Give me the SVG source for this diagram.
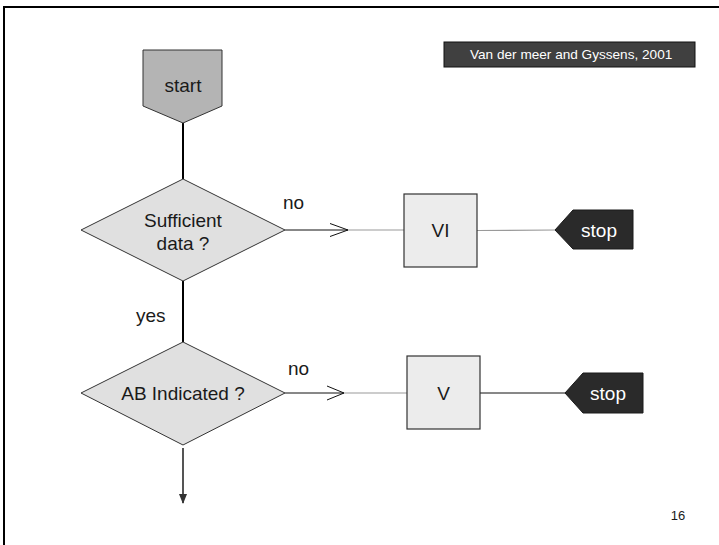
<svg xmlns="http://www.w3.org/2000/svg" width="719" height="545" viewBox="0 0 719 545">
  <style>
    text { font-family: "Liberation Sans", Arial, sans-serif; }
    .lbl { font-size: 19px; fill: #1a1a1a; text-anchor: middle; }
    .side { font-size: 19px; fill: #1a1a1a; }
    .white { font-size: 19px; fill: #ffffff; text-anchor: middle; }
    .decision { fill: #e0e0e0; stroke: #333333; stroke-width: 1; }
    .step { fill: #ececec; stroke: #333333; stroke-width: 1.2; }
    .terminal { fill: #2a2a2a; stroke: #1a1a1a; stroke-width: 1; }
    .trunk { stroke: #000000; stroke-width: 2; fill: none; }
    .flow { stroke: #111111; stroke-width: 1; fill: none; }
    .flow-light { stroke: #9a9a9a; stroke-width: 1.2; fill: none; }
  </style>
  <defs>
    <marker id="arrow-down" viewBox="0 0 10 10" refX="9" refY="5" markerWidth="5" markerHeight="5" orient="auto">
      <path d="M0,1 L10,5 L0,9 Z" fill="#333333"/>
    </marker>
  </defs>

  <rect x="0" y="0" width="719" height="545" fill="#ffffff"/>

  <!-- page frame: top and left rules -->
  <line x1="3" y1="7" x2="719" y2="7" stroke="#000000" stroke-width="2"/>
  <line x1="4" y1="6" x2="4" y2="545" stroke="#000000" stroke-width="2"/>

  <!-- citation -->
  <g id="citation">
    <rect x="444" y="42" width="251" height="25" fill="#404040" stroke="#111111" stroke-width="1"/>
    <text x="470" y="59" font-size="13.6" fill="#ffffff">Van der meer and Gyssens, 2001</text>
  </g>

  <!-- connectors -->
  <g id="connectors">
    <line class="trunk" x1="183" y1="123" x2="183" y2="179"/>
    <line class="trunk" x1="183" y1="281" x2="183" y2="342"/>
    <line x1="183" y1="448" x2="183" y2="503" stroke="#555555" stroke-width="2" marker-end="url(#arrow-down)"/>

    <!-- Sufficient data ? : no -->
    <line class="flow" x1="285" y1="230" x2="348" y2="230"/>
    <polyline class="flow" points="330,223.5 348,230 330,236.5"/>
    <line class="flow-light" x1="348" y1="230" x2="404" y2="230"/>
    <line class="flow-light" x1="477" y1="230.5" x2="556" y2="230"/>

    <!-- AB Indicated ? : no -->
    <line class="flow" x1="285" y1="393" x2="344" y2="393"/>
    <polyline class="flow" points="327,386 344,393 327,400"/>
    <line class="flow-light" x1="344" y1="393" x2="407" y2="393"/>
    <line class="flow" x1="480" y1="393" x2="566" y2="393"/>

    <text class="side" x="283" y="209">no</text>
    <text class="side" x="288" y="375">no</text>
    <text class="side" x="136" y="322">yes</text>
  </g>

  <g id="start">
    <polygon points="143,50 222,50 222,106 183,123 143,106" fill="#b4b4b4" stroke="#333333" stroke-width="1"/>
    <text class="lbl" x="183" y="92">start</text>
  </g>

  <g id="sufficient-data">
    <polygon class="decision" points="183,179 285,230 183,281 81,230"/>
    <text class="lbl" x="183" y="227">Sufficient</text>
    <text class="lbl" x="183" y="250">data ?</text>
  </g>

  <g id="box-vi">
    <rect class="step" x="404" y="194" width="73" height="73"/>
    <text class="lbl" x="440.5" y="237">VI</text>
  </g>

  <g id="stop-1">
    <polygon class="terminal" points="555,230 573,210 633,210 633,249 573,249"/>
    <text class="white" x="599" y="237">stop</text>
  </g>

  <g id="ab-indicated">
    <polygon class="decision" points="183,342 285,393 183,445 81,393"/>
    <text class="lbl" x="183" y="400">AB Indicated ?</text>
  </g>

  <g id="box-v">
    <rect class="step" x="407" y="356" width="73" height="73"/>
    <text class="lbl" x="443.5" y="400">V</text>
  </g>

  <g id="stop-2">
    <polygon class="terminal" points="565,393 583,373 643,373 643,413 583,413"/>
    <text class="white" x="608" y="400">stop</text>
  </g>

  <text x="678" y="520" font-size="13" fill="#1a1a1a" text-anchor="middle">16</text>
</svg>
